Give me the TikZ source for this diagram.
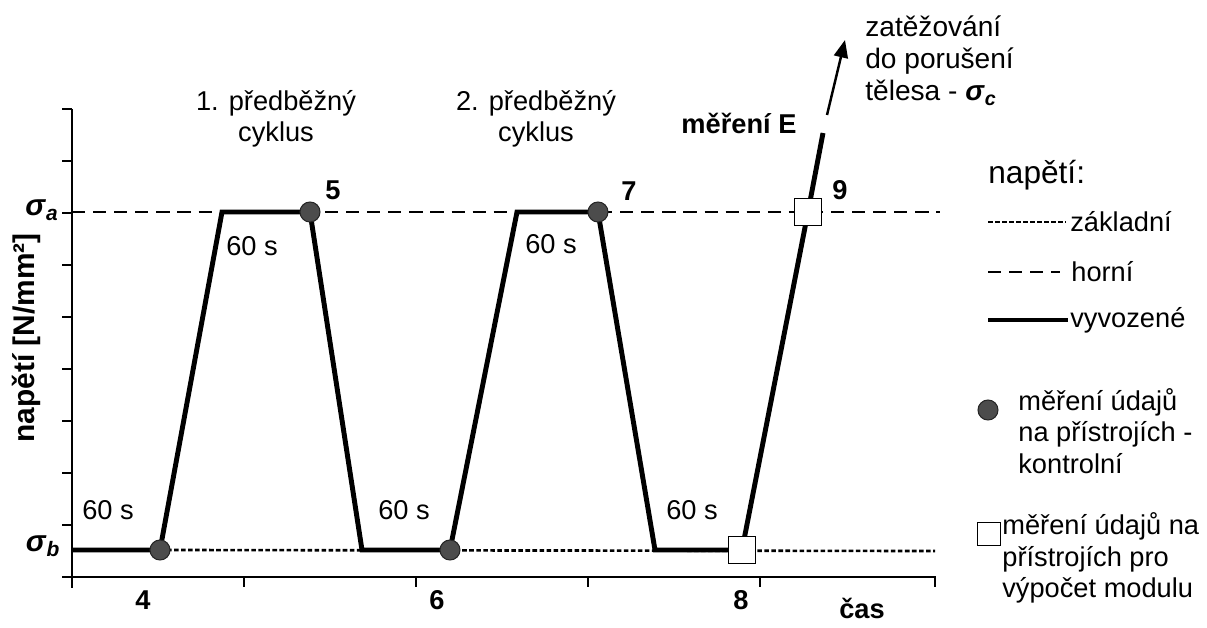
\documentclass[tikz,border=0pt]{standalone}
\usepackage{fontspec}
\setmainfont{Liberation Sans}
\usetikzlibrary{arrows.meta}

\newcommand{\sig}[1]{\textbf{\textit{σ}}\textsubscript{\textbf{\textit{#1}}}}

\begin{document}
\begin{tikzpicture}[x=0.02cm,y=-0.02cm,
  axis/.style={line width=0.7pt},
  base/.style={line width=1.5pt,dash pattern=on 2.6pt off 1.4pt},
  upper/.style={line width=1.5pt,dash pattern=on 7.5pt off 4.5pt},
  load/.style={line width=2.8pt,line join=miter},
  meas/.style={circle,draw=black!85,fill=black!70,line width=0.6pt,inner sep=0pt,minimum size=0.4cm},
  modul/.style={rectangle,draw,line width=1pt,fill=white,inner sep=0pt,minimum size=0.54cm},
  txt/.style={font=\fontsize{15.5}{17.8}\selectfont,inner sep=0pt},
  num/.style={font=\fontsize{15.5}{18}\selectfont\bfseries,inner sep=0pt}]

\useasboundingbox (0,0) rectangle (1207,628);

% axes
\coordinate (Ytop) at (72,109);
\coordinate (Ybot) at (72,588);
\coordinate (Xleft) at (62,577);
\coordinate (Xend) at (935,577);
\coordinate (Xtick) at (935,587);
\draw[axis] (Ytop) -- (Ybot);
\draw[axis] (Xleft) -- (Xend) -- (Xtick);
\foreach \y in {109,161,...,525}
  \draw[axis] (62,\y) -- (72,\y);
\foreach \x in {244,416,588,760}
  \draw[axis] (\x,577) -- (\x,587);

% points of the load path
\coordinate (c0) at (72,550);
\coordinate (c4) at (160,550);
\coordinate (c5a) at (222,212);
\coordinate (c5) at (310,212);
\coordinate (c6a) at (362,550);
\coordinate (c6) at (450,550);
\coordinate (c7a) at (517,212);
\coordinate (c7) at (598,212);
\coordinate (c8a) at (655,550);
\coordinate (c8) at (742,550);
\coordinate (c9) at (808,212);
\coordinate (cE) at (823,133);
\coordinate (cF) at (827,115);
\coordinate (cT) at (845,40);

% reference levels
\coordinate (Ua) at (72,212);
\coordinate (Ue) at (940,212);
\coordinate (Be) at (935,551);
\draw[upper] (Ua) -- (Ue);
\draw[base] (c4) -- (Be);

% load
\draw[load] (c0) -- (c4) -- (c5a) -- (c5) -- (c6a) -- (c6) -- (c7a) -- (c7) -- (c8a) -- (c8) -- (c9) -- (cE);
\draw[-{Triangle[length=10pt,width=8pt]}, line width=1.4pt] (cF) -- (cT);

% measurements
\node[meas] (m4) at (c4) {};
\node[meas] (m5) at (c5) {};
\node[meas] (m6) at (c6) {};
\node[meas] (m7) at (c7) {};
\node[modul] (m8) at (c8) {};
\node[modul] (m9) at (c9) {};

% labels
\node[num] (n4) at (143,600) {4};
\node[num] (n6) at (437,600) {6};
\node[num] (n8) at (741,600) {8};
\node[num] (cas) at (862,608) {čas};
\node[num] (n5) at (333,190) {5};
\node[num] (n7) at (629,191) {7};
\node[num] (n9) at (840,190) {9};
\node[txt] (t1) at (252,246) {60 s};
\node[txt] (t2) at (551,244) {60 s};
\node[txt] (t3) at (108,510) {60 s};
\node[txt] (t4) at (404,510) {60 s};
\node[txt] (t5) at (692,510) {60 s};
\node[txt,align=center] (cyc1) at (276,119) {1. předběžný\\cyklus};
\node[txt,align=center] (cyc2) at (536,119) {2. předběžný\\cyklus};
\node[num] (mE) at (739,123) {měření E};
\node[txt,align=left,anchor=west,font=\fontsize{16}{18.2}\selectfont] (brk) at (865,61) {zatěžování\\do porušení\\tělesa - \sig{c}};
\node[font=\fontsize{17}{20}\selectfont] (sa) at (42,210) {\sig{a}};
\node[font=\fontsize{17}{20}\selectfont] (sb) at (43,546) {\sig{b}};
\node[font=\fontsize{17}{20}\selectfont\bfseries,rotate=90] (ylab) at (26,338) {napětí [N/mm²]};

% legend
\node[font=\fontsize{18}{21}\selectfont,anchor=west,inner sep=0pt] (lgT) at (988,175) {napětí:};
\coordinate (l1a) at (988,222); \coordinate (l1b) at (1066,222);
\coordinate (l2a) at (988,272); \coordinate (l2b) at (1060,272);
\coordinate (l3a) at (988,320); \coordinate (l3b) at (1068,320);
\draw[base] (l1a) -- (l1b);
\draw[upper] (l2a) -- (l2b);
\draw[load] (l3a) -- (l3b);
\node[txt,anchor=west] (lg1) at (1070,222) {základní};
\node[txt,anchor=west] (lg2) at (1071,272) {horní};
\node[txt,anchor=west] (lg3) at (1070,320) {vyvozené};
\node[meas] (lgD) at (988,410) {};
\node[txt,anchor=west,align=left] (lg4) at (1018,431) {měření údajů\\na přístrojích -\\kontrolní};
\node[modul,minimum size=0.46cm] (lgS) at (989,534) {};
\node[txt,anchor=west,align=left] (lg5) at (1002,558) {měření údajů na\\přístrojích pro\\výpočet modulu};
\end{tikzpicture}
\end{document}
